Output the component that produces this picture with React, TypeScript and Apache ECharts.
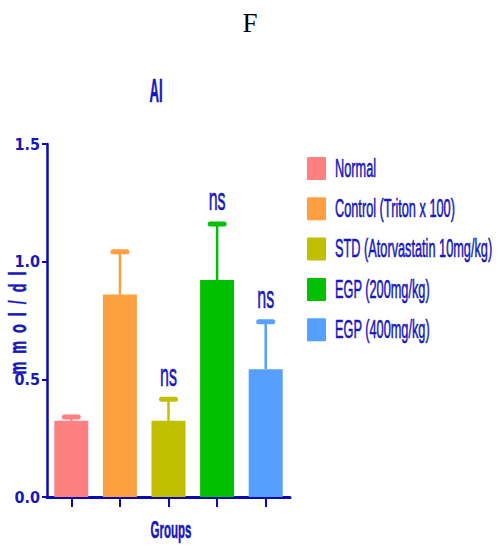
import React, { useEffect, useRef } from "react";
import * as echarts from "echarts";

const categories = ["Normal", "Control (Triton x 100)", "STD (Atorvastatin 10mg/kg)", "EGP (200mg/kg)", "EGP (400mg/kg)"];
const means = [0.324, 0.86, 0.324, 0.922, 0.543];
const upper = [0.34, 1.042, 0.415, 1.16, 0.745];
const significance = ["", "", "ns", "ns", "ns"];
const colors = ["#FF8080", "#FFA040", "#C0C000", "#00C000", "#55A0FF"];
const yTicks = [0, 0.5, 1.0, 1.5];

const TEXT = "#1717bb";
const AXIS = "#0a0ab0";
const SANS = "'Liberation Sans', Arial, sans-serif";
const COND = "'DejaVu Sans Condensed', 'Liberation Sans', sans-serif";

export default function App() {
  const ref = useRef<HTMLDivElement>(null);
  useEffect(() => {
    document.body.style.margin = "0";
    const chart = echarts.init(ref.current!, null, { renderer: "svg" });
    const barSeries = categories.map((name, i) => ({
      name,
      type: "bar",
      stack: "all",
      barWidth: 34,
      itemStyle: { color: colors[i] },
      data: categories.map((_, j) => (j === i ? means[i] : "-")),
    }));
    const legendItems: any[] = [];
    categories.forEach((name, i) => {
      legendItems.push({ type: "rect", shape: { x: 307, y: 157 + 40.3 * i, width: 19, height: 23, r: 1 }, style: { fill: colors[i] } });
      legendItems.push({
        type: "text",
        x: 335,
        y: 168 + 40.3 * i,
        scaleX: 0.51,
        style: { text: name, fill: TEXT, stroke: TEXT, lineWidth: 0.6, fontSize: 25, fontFamily: SANS, align: "left", verticalAlign: "middle" },
      });
    });
    const option = {
      animation: false,
      grid: { left: 47, right: 209, top: 144, bottom: 48 },
      xAxis: {
        type: "category",
        data: categories,
        axisLine: { lineStyle: { color: AXIS, width: 3 } },
        axisTick: { show: true, interval: 0, alignWithLabel: true, length: 10, lineStyle: { color: AXIS, width: 2 } },
        axisLabel: { show: false, interval: 0 },
      },
      yAxis: {
        type: "value",
        min: yTicks[0],
        max: yTicks[yTicks.length - 1],
        interval: 0.5,
        splitLine: { show: false },
        axisLine: { show: true, lineStyle: { color: AXIS, width: 2.5 } },
        axisTick: { show: true, length: 5, lineStyle: { color: AXIS, width: 2 } },
        axisLabel: {
          margin: 7,
          color: TEXT,
          fontSize: 16,
          fontWeight: "bold",
          fontFamily: COND,
          formatter: (v: number) => v.toFixed(1),
        },
      },
      series: [
        ...barSeries,
        {
          name: "error",
          type: "custom",
          z: 5,
          encode: { x: 0, y: 2 },
          data: categories.map((_, i) => [i, means[i], upper[i]]),
          renderItem: (params: any, api: any) => {
            const i = api.value(0);
            const top = api.coord([i, api.value(2)]);
            const base = api.coord([i, api.value(1)]);
            const color = colors[i];
            const children: any[] = [
              { type: "line", shape: { x1: top[0], y1: base[1], x2: top[0], y2: top[1] }, style: { stroke: color, lineWidth: 2.5 } },
              { type: "line", shape: { x1: top[0] - 7, y1: top[1], x2: top[0] + 7, y2: top[1] }, style: { stroke: color, lineWidth: 5, lineCap: "round" } },
            ];
            if (significance[i]) {
              children.push({
                type: "text",
                x: top[0],
                y: top[1] - 25,
                scaleX: 0.5,
                style: { text: significance[i], fill: TEXT, stroke: TEXT, lineWidth: 0.6, fontSize: 32, fontFamily: SANS, align: "center", verticalAlign: "middle" },
              });
            }
            return { type: "group", children };
          },
        },
      ],
      graphic: [
        { type: "text", x: 250, y: 23, style: { text: "F", fill: "#000", fontSize: 27, fontFamily: "'Liberation Serif', serif", align: "center", verticalAlign: "middle" } },
        { type: "text", x: 156, y: 90, scaleX: 0.4, style: { text: "AI", fill: TEXT, stroke: TEXT, lineWidth: 0.6, fontSize: 33, fontWeight: "bold", fontFamily: SANS, align: "center", verticalAlign: "middle" } },
        { type: "text", x: 171, y: 530, scaleX: 0.5, style: { text: "Groups", fill: TEXT, stroke: TEXT, lineWidth: 0.5, fontSize: 23, fontWeight: "bold", fontFamily: SANS, align: "center", verticalAlign: "middle" } },
        { type: "text", x: 18, y: 323, rotation: Math.PI / 2, scaleX: 0.6, style: { text: "m  m  o  l  /  d  l", fill: TEXT, stroke: TEXT, lineWidth: 0.5, fontSize: 24, fontWeight: "bold", fontFamily: SANS, align: "center", verticalAlign: "middle" } },
        ...legendItems,
      ],
    };
    chart.setOption(option as any);
    return () => chart.dispose();
  }, []);
  return <div ref={ref} style={{ width: 499, height: 545 }} />;
}
